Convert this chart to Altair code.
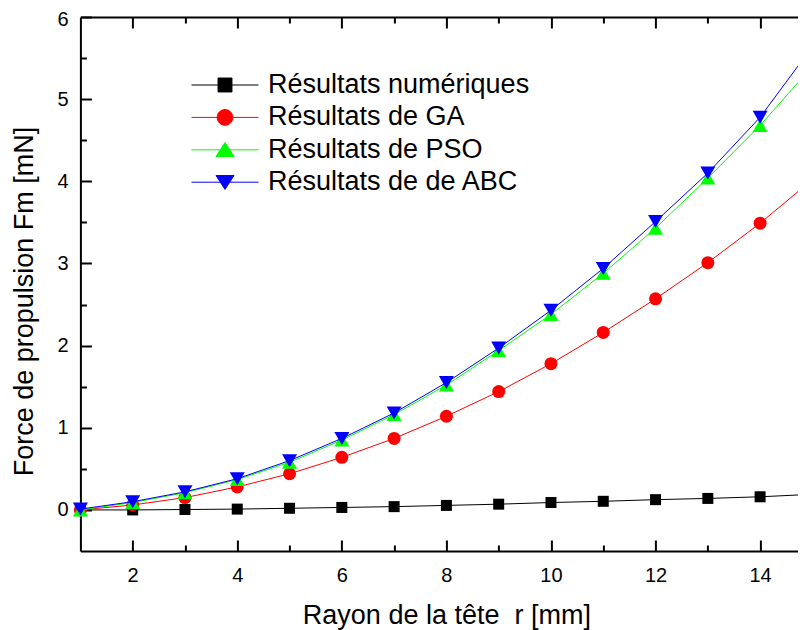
import altair as alt
import pandas as pd

# ---- data ----
r_mm = list(range(1, 16))
numeriques = [0.0, 0.0, 0.005, 0.01, 0.02, 0.03, 0.04, 0.055, 0.07, 0.09, 0.105, 0.125, 0.14, 0.16, 0.19]
ga = [0.0, 0.06, 0.15, 0.28, 0.44, 0.64, 0.87, 1.14, 1.44, 1.78, 2.16, 2.57, 3.01, 3.49, 4.02]
pso = [0.0, 0.09, 0.21, 0.37, 0.58, 0.85, 1.16, 1.52, 1.94, 2.38, 2.88, 3.43, 4.04, 4.68, 5.40]
abc = [0.01, 0.10, 0.22, 0.38, 0.60, 0.87, 1.18, 1.55, 1.97, 2.43, 2.94, 3.51, 4.10, 4.78, 5.64]

series_names = ["Résultats numériques", "Résultats de GA", "Résultats de PSO", "Résultats de de ABC"]
series_colors = ["#000000", "#ff0000", "#00ff00", "#0000ff"]
point_shapes = ["square", "circle", "triangle-up", "triangle-down"]
point_sizes = [121, 169, 225, 225]

x_ticks = list(range(2, 16))
y_ticks = [v / 2 for v in range(0, 13)]

# legend glyphs: a line segment with the marker in the middle (unit coords)
LINE = "M-2.31,0H2.31"
legend_paths = [
    LINE + "M-0.48,-0.48H0.48V0.48H-0.48Z",
    LINE + "M-0.54,0A0.54,0.54 0 1,0 0.54,0A0.54,0.54 0 1,0 -0.54,0Z",
    LINE + "M0,-0.5L0.62,0.46L-0.62,0.46Z",
    LINE + "M0,0.5L0.62,-0.46L-0.62,-0.46Z",
]

rows = []
for name, vals in zip(series_names, [numeriques, ga, pso, abc]):
    for x, y in zip(r_mm, vals):
        rows.append({"r": x, "F": y, "serie": name})
df = pd.DataFrame(rows)

FONT = "Liberation Sans"
xscale = alt.Scale(domain=[1, 15], nice=False, zero=False)
yscale = alt.Scale(domain=[-0.5, 6], nice=False, zero=False)

common_axis = dict(
    domainColor="black", domainWidth=2, tickColor="black", tickWidth=2,
    labelFont=FONT, labelFontSize=20, labelColor="black",
    titleFont=FONT, titleFontSize=27, titleFontWeight="normal", titleColor="black",
    grid=False,
)

x_bottom = alt.Axis(
    orient="bottom", values=x_ticks, format="d",
    labelExpr="datum.value % 2 === 0 ? datum.label : ''",
    tickSize={"expr": "datum.value % 2 === 0 ? -11 : -6"},
    labelPadding=25, title="Rayon de la tête \u00a0r [mm]", titlePadding=17,
    **common_axis,
)
y_left = alt.Axis(
    orient="left", values=y_ticks, format=".0f",
    labelExpr="datum.value % 1 === 0 ? datum.label : ''",
    labelOffset={"expr": "datum.value === 6 ? 2 : 0"},
    tickSize={"expr": "datum.value % 1 === 0 ? -11 : -6"},
    labelPadding=23.4, title="Force de propulsion Fm [mN]", titlePadding=18,
    titleY=284,
    **common_axis,
)
x_top = alt.Axis(
    orient="top", values=x_ticks, labels=False, title=None,
    tickSize={"expr": "datum.value % 2 === 0 ? -11 : -6"},
    **common_axis,
)
y_right = alt.Axis(
    orient="right", values=y_ticks, labels=False, title=None,
    tickSize={"expr": "datum.value % 1 === 0 ? -11 : -6"},
    **common_axis,
)

layers = []
for i, (name, col, shp, sz) in enumerate(zip(series_names, series_colors, point_shapes, point_sizes)):
    base = alt.Chart(df).transform_filter(alt.datum.serie == name)
    first = i == 0
    line = base.mark_line(strokeWidth=1, color=col).encode(
        x=alt.X("r:Q", scale=xscale, axis=x_bottom if first else None),
        y=alt.Y("F:Q", scale=yscale, axis=y_left if first else None),
        order="r:Q",
    )
    pts = base.mark_point(shape=shp, size=sz, filled=True, opacity=1, color=col).encode(
        x=alt.X("r:Q", scale=xscale, axis=None),
        y=alt.Y("F:Q", scale=yscale, axis=None),
    )
    layers += [line, pts]

legend = alt.Legend(
    orient="none", legendX=129.6, legendY=53, title=None,
    labelFont=FONT, labelFontSize=27, labelColor="black", labelLimit=600,
    labelOffset=28, symbolSize=841, symbolStrokeWidth=1, symbolOpacity=1,
    rowPadding=4.4, padding=0, symbolOffset=0,
)

proxy = alt.Chart(df).mark_point(opacity=0).encode(
    x=alt.X("r:Q", scale=xscale, axis=x_top),
    y=alt.Y("F:Q", scale=yscale, axis=y_right),
    fill=alt.Fill("serie:N", scale=alt.Scale(domain=series_names, range=series_colors),
                  sort=series_names, legend=legend),
    stroke=alt.Stroke("serie:N", scale=alt.Scale(domain=series_names, range=series_colors),
                      sort=series_names, legend=legend),
    shape=alt.Shape("serie:N", scale=alt.Scale(domain=series_names, range=legend_paths),
                    sort=series_names, legend=legend),
)

chart = (
    alt.layer(*layers, proxy)
    .resolve_axis(x="independent", y="independent")
    .properties(
        width=732, height=534,
        autosize=alt.AutoSizeParams(type="none"),
        padding={"left": 72.4, "top": 9, "right": -14.4, "bottom": 79},
        background="white",
    )
    .configure_view(stroke=None)
)

chart.save("out.html", embed_options={"renderer": "svg", "actions": False})
